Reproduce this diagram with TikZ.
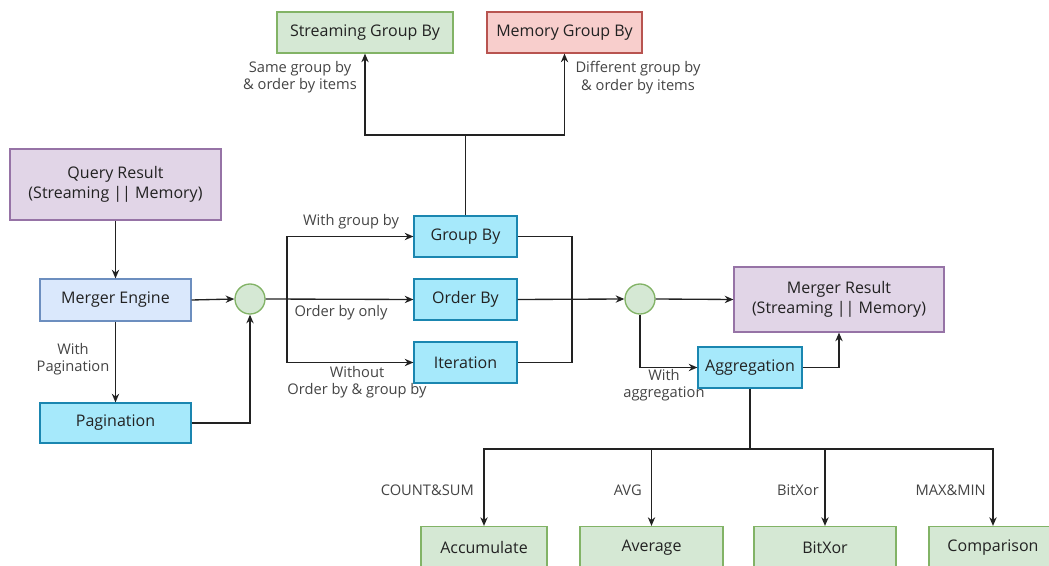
\documentclass[tikz,border=0pt]{standalone}
\usepackage{fontspec}
\setmainfont{Open Sans}
\usetikzlibrary{arrows.meta}
\definecolor{purpF}{HTML}{E1D5E7}
\definecolor{purpD}{HTML}{9673A6}
\definecolor{blueF}{HTML}{DAE8FC}
\definecolor{blueD}{HTML}{6C8EBF}
\definecolor{cyanF}{HTML}{A6E9FB}
\definecolor{cyanD}{HTML}{1A86B0}
\definecolor{greenF}{HTML}{D5E8D4}
\definecolor{greenD}{HTML}{82B366}
\definecolor{redF}{HTML}{F8CECC}
\definecolor{redD}{HTML}{B85450}
\definecolor{ink}{HTML}{222222}
\definecolor{lblink}{HTML}{444444}
\tikzset{
  box/.style={draw, line width=0.9pt, inner sep=0pt, align=center,
    font=\fontsize{12}{15}\selectfont, text=ink},
  purpbox/.style={box, fill=purpF, draw=purpD},
  bluebox/.style={box, fill=blueF, draw=blueD},
  cyanbox/.style={box, fill=cyanF, draw=cyanD},
  greenbox/.style={box, fill=greenF, draw=greenD},
  redbox/.style={box, fill=redF, draw=redD},
  junction/.style={circle, draw=greenD, fill=greenF, line width=1pt,
    minimum size=22.5pt, inner sep=0pt},
  lbl/.style={font=\fontsize{11}{13}\selectfont, text=lblink, align=center, inner sep=0pt},
  ln/.style={line width=1pt, draw=ink},
  arr/.style={ln, -{Stealth[length=6.5pt,width=5.5pt]}},
}
\begin{document}
\begin{tikzpicture}[x=0.75pt,y=-0.75pt]
\useasboundingbox (0,0) rectangle (1049,566);

% nodes
\node[purpbox, minimum width=158.25pt, minimum height=53.25pt] (qr) at (115.5,184.5) {Query Result\\(Streaming || Memory)};
\node[bluebox, minimum width=113.25pt, minimum height=31.5pt] (me) at (115.5,300) {Merger Engine};
\node[cyanbox, minimum width=113.25pt, minimum height=30pt] (pg) at (115.5,423) {Pagination};
\node[junction] (c1) at (250,299) {};
\node[cyanbox, minimum width=77.25pt, minimum height=30.75pt] (gb) at (465.5,236.5) {Group By};
\node[cyanbox, minimum width=77.25pt, minimum height=30.75pt] (ob) at (465.5,299.5) {Order By};
\node[cyanbox, minimum width=77.25pt, minimum height=30.75pt] (it) at (465.5,362.5) {Iteration};
\node[greenbox, minimum width=132pt, minimum height=30.75pt] (sg) at (365,32.5) {Streaming Group By};
\node[redbox, minimum width=116.25pt, minimum height=30.75pt] (mg) at (564.5,32.5) {Memory Group By};
\node[junction] (c2) at (640,299) {};
\node[purpbox, minimum width=157.5pt, minimum height=48.75pt] (mr) at (839,299.5) {Merger Result\\(Streaming || Memory)};
\node[cyanbox, minimum width=78pt, minimum height=30.75pt] (ag) at (750,367.5) {Aggregation};
\node[greenbox, minimum width=94.5pt, minimum height=31.5pt] (acc) at (484,547.5) {Accumulate};
\node[greenbox, minimum width=107.25pt, minimum height=31.5pt] (avg) at (651.5,547.5) {Average};
\node[greenbox, minimum width=106.5pt, minimum height=31.5pt] (bx) at (825,547.5) {BitXor};
\node[greenbox, minimum width=96pt, minimum height=31.5pt] (cmp) at (993,547.5) {Comparison};

% junction coordinates
\coordinate (bl) at (287,299);
\coordinate (rj) at (572,299);
\coordinate (tj) at (465.5,135);
\coordinate (bj) at (750,449);

% connectors
\draw[arr] (qr.south) -- (me.north);
\draw[arr] (me.east) -- (c1.west);
\draw[arr] (me.south) -- (pg.north);
\draw[arr] (pg.east) -| (c1.south);
\draw[arr] (c1.east) -- (ob.west);
\draw[arr] (bl) |- (gb.west);
\draw[arr] (bl) |- (it.west);
\draw[ln] (gb.east) -| (rj) |- (it.east);
\draw[arr] (ob.east) -- (c2.west);
\draw[ln] (gb.north) -- (tj);
\draw[arr] (tj) -| (sg.south);
\draw[arr] (tj) -| (mg.south);
\draw[arr] (c2.east) -- (mr.west);
\draw[arr] (c2.south) |- (ag.west);
\draw[arr] (ag.east) -| (mr.south);
\draw[ln] (ag.south) -- (bj);
\draw[arr] (bj) -| (acc.north);
\draw[arr] (bj) -| (avg.north);
\draw[arr] (bj) -| (bx.north);
\draw[arr] (bj) -| (cmp.north);

% labels
\node[lbl] (l1) at (73,359) {With\\Pagination};
\node[lbl] (l2) at (300,77.5) {Same group by\\\& order by items};
\node[lbl] (l3) at (638,77.5) {Different group by\\\& order by items};
\node[lbl] (l4) at (351,222) {With group by};
\node[lbl] (l5) at (341,313) {Order by only};
\node[lbl] (l6) at (357,382.5) {Without\\Order by \& group by};
\node[lbl] (l7) at (664,385) {With\\aggregation};
\node[lbl, anchor=east] (l8) at (474,490) {COUNT\&SUM};
\node[lbl, anchor=east] (l9) at (642,490) {AVG};
\node[lbl, anchor=east] (l10) at (819,490) {BitXor};
\node[lbl, anchor=east] (l11) at (986,490) {MAX\&MIN};
\end{tikzpicture}
\end{document}
